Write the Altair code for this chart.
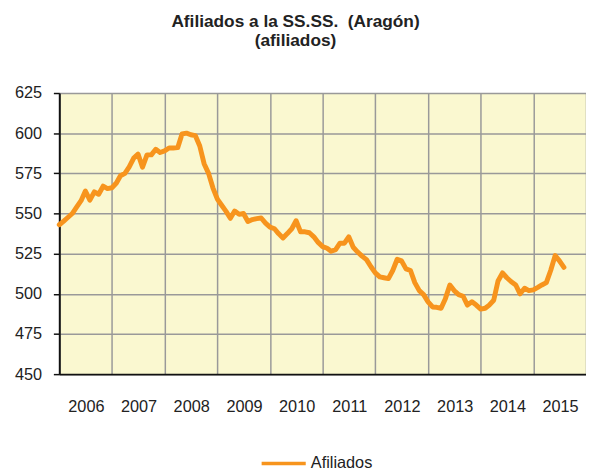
import altair as alt
import pandas as pd

# ---- data ----
start_month = "2006-01-01"
afiliados = [
    543.0, 545.3, 547.5, 550.0, 554.0, 558.0, 564.0, 558.3, 563.5, 562.0, 567.0, 565.5,   # 2006
    566.0, 569.0, 573.5, 575.0, 579.0, 584.5, 587.0, 578.8, 586.5, 586.5, 590.0, 588.0,   # 2007
    589.0, 590.8, 590.8, 591.0, 599.5, 600.0, 599.0, 598.5, 592.0, 581.0, 575.0, 566.0,   # 2008
    559.0, 555.0, 551.5, 547.0, 551.5, 549.5, 550.0, 545.0, 546.2, 546.8, 547.2, 544.0,   # 2009
    541.5, 540.5, 537.5, 534.8, 537.5, 540.5, 545.5, 538.6, 538.6, 538.0, 535.5, 532.0,   # 2010
    529.4, 528.4, 526.5, 527.5, 531.5, 531.5, 535.5, 529.0, 526.0, 523.5, 521.3, 517.0,   # 2011
    513.0, 510.5, 510.0, 509.5, 514.5, 521.5, 520.5, 515.5, 514.5, 507.0, 502.0, 499.5,   # 2012
    495.0, 491.8, 491.6, 491.0, 497.0, 505.5, 502.0, 499.5, 498.5, 493.0, 495.0, 493.0,   # 2013
    490.5, 491.0, 493.0, 496.0, 508.0, 513.0, 510.0, 507.5, 505.5, 500.0, 503.5, 502.0,   # 2014
    502.5, 504.0, 505.5, 507.0, 514.5, 523.8, 520.5, 516.5,                               # 2015
]
years = list(range(2006, 2017))
y_ticks = [450, 475, 500, 525, 550, 575, 600, 625]
series_name = "Afiliados"
# the reference shows two spaces before "(Aragón)"; a no-break space keeps both in SVG
title_lines = ["Afiliados a la SS.SS.\u00a0 (Aragón)", "(afiliados)"]

dates = pd.date_range(start_month, periods=len(afiliados), freq="MS")
df = pd.DataFrame({
    "fecha": dates.strftime("%Y-%m-%d"),
    "valor": afiliados,
    "serie": series_name,
})

FONT = "Liberation Sans"
TXT = "#222222"

def ydate(y):
    return alt.DateTime(year=y, month=1, date=1, utc=True)

chart = (
    alt.Chart(df)
    .mark_line(strokeWidth=5, strokeJoin="round", strokeCap="round")
    .encode(
        x=alt.X(
            "fecha:T",
            title=None,
            scale=alt.Scale(type="utc", domain=[ydate(years[0]), ydate(years[-1])]),
            axis=alt.Axis(
                values=[ydate(y) for y in years],
                labelExpr="utcFormat(datum.value, '%Y') == '2016' ? '' : utcFormat(datum.value, '%Y')",
                labelOffset=27,
                labelPadding=25,
                labelOverlap=False,
                labelFlush=False,
                labelAlign="center",
                ticks=False,
                grid=True,
                domainColor="#111111",
                domainWidth=2,
                labelAngle=0,
            ),
        ),
        y=alt.Y(
            "valor:Q",
            title=None,
            scale=alt.Scale(domain=[450, 625], nice=False, zero=False),
            axis=alt.Axis(
                values=y_ticks,
                tickSize=6,
                tickWidth=1.5,
                tickColor="#111111",
                labelPadding=12,
                labelOverlap=False,
                grid=True,
                domainColor="#111111",
                domainWidth=2,
            ),
        ),
        color=alt.Color(
            "serie:N",
            scale=alt.Scale(domain=[series_name], range=["#F7941D"]),
            legend=alt.Legend(
                title=None,
                orient="none",
                legendX=203,
                legendY=351,
                symbolType="stroke",
                symbolSize=2000,
                symbolStrokeWidth=3.5,
                labelFontSize=16.5,
                labelFont=FONT,
                labelColor=TXT,
                labelOffset=3,
            ),
        ),
    )
    .properties(
        width=534,
        height=285,
        autosize="none",
        padding={"left": 52, "top": 83, "right": 0, "bottom": 95},
        title=alt.TitleParams(
            text=title_lines,
            fontSize=17.5,
            fontWeight="bold",
            font=FONT,
            color=TXT,
            anchor="middle",
            dx=-27.5,
            offset=36,
            lineHeight=19,
        ),
    )
    .configure_view(fill="#FAF8D0", stroke=None)
    .configure_axis(
        gridColor="#999999",
        gridWidth=1.5,
        labelFont=FONT,
        labelFontSize=16.5,
        labelColor=TXT,
    )
)

chart.save("out.html", embed_options={"renderer": "svg", "actions": False})
